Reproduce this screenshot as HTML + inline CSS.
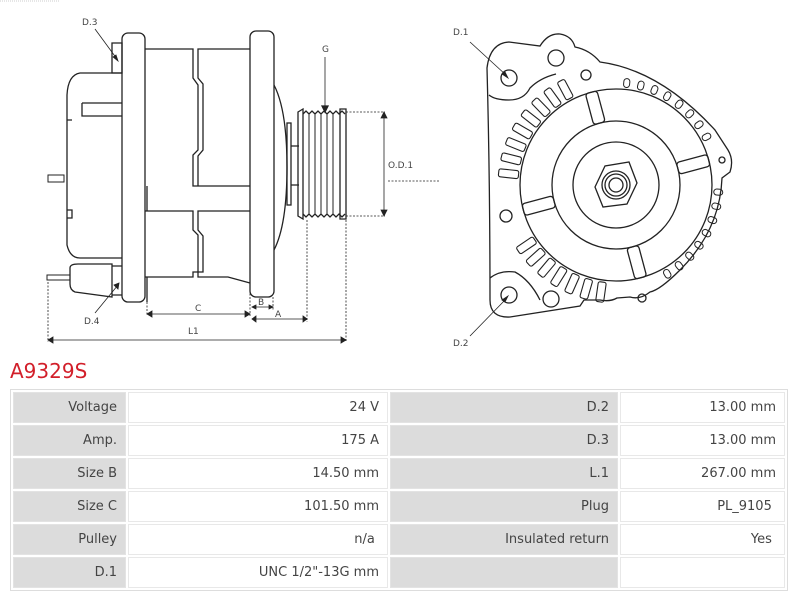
<!DOCTYPE html>
<html><head><meta charset="utf-8"><style>
body{margin:0;width:800px;height:594px;background:#fff;overflow:hidden;font-family:"DejaVu Sans","Liberation Sans",sans-serif;}
svg{position:absolute;left:0;top:0}
.t{position:absolute;left:10px;top:359px;color:#d21f2a;font-size:20px;}
table{position:absolute;left:10px;top:389px;border-collapse:separate;border-spacing:2px;background:#fff;border:1px solid #ddd;width:778px;table-layout:fixed}
td{box-sizing:border-box;height:31px;padding:0 8px;font-size:13px;color:#444;text-align:right;background:#fff;border:1px solid #e8e8e8;line-height:29px}
td.l{background:#dcdcdc;border-color:#e3e3e3}
</style></head><body>
<svg width="800" height="355" viewBox="0 0 800 355" fill="none" stroke="#222" stroke-width="1.3">
<path d="M112 43 H122 V73 H112 Z"/>
<path d="M122 73 H80 Q68 75 67 95 V245 Q70 258 80 258 H122"/>
<path d="M82 103 H122 M82 103 V116 H122"/>
<path d="M67 120 H72 M67 210 H72 V218 H67"/>
<rect x="48" y="175" width="16" height="7" stroke-width="1"/>
<path d="M70 268 Q70 264 78 264 H112 V297 L75 292 Q70 290 70 284 Z"/>
<path d="M112 266 H122 M112 295 H122"/>
<rect x="47" y="275" width="23" height="5" stroke-width="1"/>
<rect x="122" y="33" width="23" height="269" rx="6"/>
<path d="M145 49 H193 V78 L198 85 V150 L193 155 V186 H250"/>
<path d="M250 49 H198 V78 L203 84 V150 L198 156 V186"/>
<path d="M145 211 H193 V230 L198 235 V272 H193 V277 H145"/>
<path d="M250 211 H198 V230 L203 236 V272 H198 V277 H228 L250 283"/>
<path d="M147 186 V211 M147 277 V302"/>
<rect x="250" y="31" width="24" height="266" rx="6"/>
<path d="M274 85 Q287 110 287 167 Q287 225 274 250"/>
<rect x="287" y="123" width="4" height="82"/>
<path d="M291 146 H299 M291 185 H299"/>
<path d="M298 112 L303 109 V219 L298 216 Z"/>
<path d="M340 109 H346 V219 H340 Z"/>
<path d="M303 114 l3-3 3 3 3-3 3 3 3-3 3 3 3-3 3 3 3-3 3 3 3-3 3 3 3-3 3 3 M303 214 l3 3 3-3 3 3 3-3 3 3 3-3 3 3 3-3 3 3 3-3 3 3 3-3 3 3 3-3"/>
<path d="M309 114 V214 M315 114 V214 M321 114 V214 M327 114 V214 M333 114 V214" stroke-width="1"/>
<path d="M325 57 V110" stroke-width="0.8"/><path d="M322 106 L325 112 L328 106Z" fill="#222"/>
<g stroke-width="0.8" stroke-dasharray="2,1.5">
<path d="M346 112 H385 M346 216 H385 M388 181 H440 M346 220 V342 M307 220 V322 M250 290 V316 M147 302 V316 M48 282 V342 M273 297 V310"/>
</g>
<g stroke-width="0.8">
<path d="M384 115 V213"/><path d="M381 118 L384 112 L387 118Z M381 210 L384 216 L387 210Z" fill="#222"/>
<path d="M149 314 H248"/><path d="M152 311 L147 314 L152 317Z M245 311 L250 314 L245 317Z" fill="#222"/>
<path d="M253 307 H272"/><path d="M256 305 L252 307 L256 309Z M269 305 L273 307 L269 309Z" fill="#222"/>
<path d="M253 319 H306"/><path d="M256 316 L252 319 L256 322Z M303 316 L307 319 L303 322Z" fill="#222"/>
<path d="M50 340 H344"/><path d="M53 337 L48 340 L53 343Z M341 337 L346 340 L341 343Z" fill="#222"/>
<path d="M95 29 L117 59"/><path d="M113 57 L118 61 L116 55Z" fill="#222"/>
<path d="M95 313 L118 285"/><path d="M114 285 L119 283 L118 289Z" fill="#222"/>
</g>
<g fill="#444" stroke="none" font-family="DejaVu Sans,sans-serif" font-size="9">
<text x="82" y="25">D.3</text><text x="84" y="324">D.4</text><text x="322" y="52">G</text>
<text x="388" y="168">O.D.1</text><text x="195" y="311">C</text><text x="258" y="305">B</text><text x="275" y="317">A</text><text x="188" y="334">L1</text>
<text x="453" y="35">D.1</text><text x="453" y="346">D.2</text>
</g>
<path d="M487 68 Q490 43 509 42 L540 46 Q548 33 560 34 Q572 36 575 47 Q590 50 600 62 Q660 70 715 130 L728 150 Q734 160 730 172 L722 178 Q720 230 680 270 Q660 290 650 292 Q640 300 630 297 L617 298 Q610 302 600 300 L584 300 L580 306 L510 317 Q490 318 490 300 Q490 180 487 68 Z"/>
<circle cx="509" cy="78" r="8"/><circle cx="509" cy="295" r="8"/>
<path d="M489 95 Q495 100 509 100 Q524 100 530 88 Q540 78 556 74"/>
<path d="M490 278 Q500 270 515 272 Q530 280 540 300"/>
<circle cx="556" cy="58" r="8"/><circle cx="586" cy="75" r="5"/>
<circle cx="506" cy="216" r="6"/><circle cx="551" cy="299" r="8"/>
<circle cx="642" cy="298" r="4"/><circle cx="722" cy="160" r="3"/>
<circle cx="616" cy="185" r="96"/>
<circle cx="616" cy="185" r="64"/><circle cx="616" cy="185" r="43"/>
<polygon points="629,162 637,183 627,204 603,207 595,187 605,166" />
<circle cx="616" cy="185" r="14"/><circle cx="616" cy="185" r="11"/><circle cx="616" cy="185" r="7"/>
<g>
<rect x="680" y="179" width="32" height="12" rx="3" transform="rotate(-15 616 185)"/>
<rect x="680" y="179" width="32" height="12" rx="3" transform="rotate(75 616 185)"/>
<rect x="680" y="179" width="32" height="12" rx="3" transform="rotate(165 616 185)"/>
<rect x="680" y="179" width="32" height="12" rx="3" transform="rotate(255 616 185)"/>
</g>
<g stroke-width="1.1">
<rect x="714" y="181" width="20" height="8" rx="2" transform="rotate(98 616 185)"/>
<rect x="714" y="181" width="20" height="8" rx="2" transform="rotate(106 616 185)"/>
<rect x="714" y="181" width="20" height="8" rx="2" transform="rotate(114 616 185)"/>
<rect x="714" y="181" width="20" height="8" rx="2" transform="rotate(122 616 185)"/>
<rect x="714" y="181" width="20" height="8" rx="2" transform="rotate(130 616 185)"/>
<rect x="714" y="181" width="20" height="8" rx="2" transform="rotate(138 616 185)"/>
<rect x="714" y="181" width="20" height="8" rx="2" transform="rotate(146 616 185)"/>
<rect x="714" y="181" width="20" height="8" rx="2" transform="rotate(186 616 185)"/>
<rect x="714" y="181" width="20" height="8" rx="2" transform="rotate(194 616 185)"/>
<rect x="714" y="181" width="20" height="8" rx="2" transform="rotate(202 616 185)"/>
<rect x="714" y="181" width="20" height="8" rx="2" transform="rotate(210 616 185)"/>
<rect x="714" y="181" width="20" height="8" rx="2" transform="rotate(218 616 185)"/>
<rect x="714" y="181" width="20" height="8" rx="2" transform="rotate(226 616 185)"/>
<rect x="714" y="181" width="20" height="8" rx="2" transform="rotate(234 616 185)"/>
<rect x="714" y="181" width="20" height="8" rx="2" transform="rotate(242 616 185)"/>
</g>
<g stroke-width="1">
<rect x="714" y="182" width="9" height="6" rx="3" transform="rotate(-84 616 185)"/>
<rect x="714" y="182" width="9" height="6" rx="3" transform="rotate(-76 616 185)"/>
<rect x="714" y="182" width="9" height="6" rx="3" transform="rotate(-68 616 185)"/>
<rect x="714" y="182" width="9" height="6" rx="3" transform="rotate(-60 616 185)"/>
<rect x="714" y="182" width="9" height="6" rx="3" transform="rotate(-52 616 185)"/>
<rect x="714" y="182" width="9" height="6" rx="3" transform="rotate(-44 616 185)"/>
<rect x="714" y="182" width="9" height="6" rx="3" transform="rotate(-36 616 185)"/>
<rect x="714" y="182" width="9" height="6" rx="3" transform="rotate(-28 616 185)"/>
<rect x="714" y="182" width="9" height="6" rx="3" transform="rotate(4 616 185)"/>
<rect x="714" y="182" width="9" height="6" rx="3" transform="rotate(12 616 185)"/>
<rect x="714" y="182" width="9" height="6" rx="3" transform="rotate(20 616 185)"/>
<rect x="714" y="182" width="9" height="6" rx="3" transform="rotate(28 616 185)"/>
<rect x="714" y="182" width="9" height="6" rx="3" transform="rotate(36 616 185)"/>
<rect x="714" y="182" width="9" height="6" rx="3" transform="rotate(44 616 185)"/>
<rect x="714" y="182" width="9" height="6" rx="3" transform="rotate(52 616 185)"/>
<rect x="714" y="182" width="9" height="6" rx="3" transform="rotate(60 616 185)"/>
</g>
<g stroke-width="0.8">
<path d="M470 42 L506 75"/><path d="M502 74 L508 78 L505 72Z" fill="#222"/>
<path d="M470 336 L506 299"/><path d="M502 300 L508 296 L505 302Z" fill="#222"/>
</g>
<path d="M0 1 H60" stroke="#ccc" stroke-dasharray="1,1" stroke-width="1"/>
</svg>
<div class="t">A9329S</div>
<table>
<colgroup><col style="width:113px"><col style="width:260px"><col style="width:228px"><col style="width:165px"></colgroup>
<tr><td class="l">Voltage</td><td>24 V</td><td class="l">D.2</td><td>13.00 mm</td></tr>
<tr><td class="l">Amp.</td><td>175 A</td><td class="l">D.3</td><td>13.00 mm</td></tr>
<tr><td class="l">Size B</td><td>14.50 mm</td><td class="l">L.1</td><td>267.00 mm</td></tr>
<tr><td class="l">Size C</td><td>101.50 mm</td><td class="l">Plug</td><td>PL_9105&nbsp;</td></tr>
<tr><td class="l">Pulley</td><td>n/a&nbsp;</td><td class="l">Insulated return</td><td>Yes&nbsp;</td></tr>
<tr><td class="l">D.1</td><td>UNC 1/2"-13G mm</td><td class="l"></td><td></td></tr>
</table>
</body></html>
